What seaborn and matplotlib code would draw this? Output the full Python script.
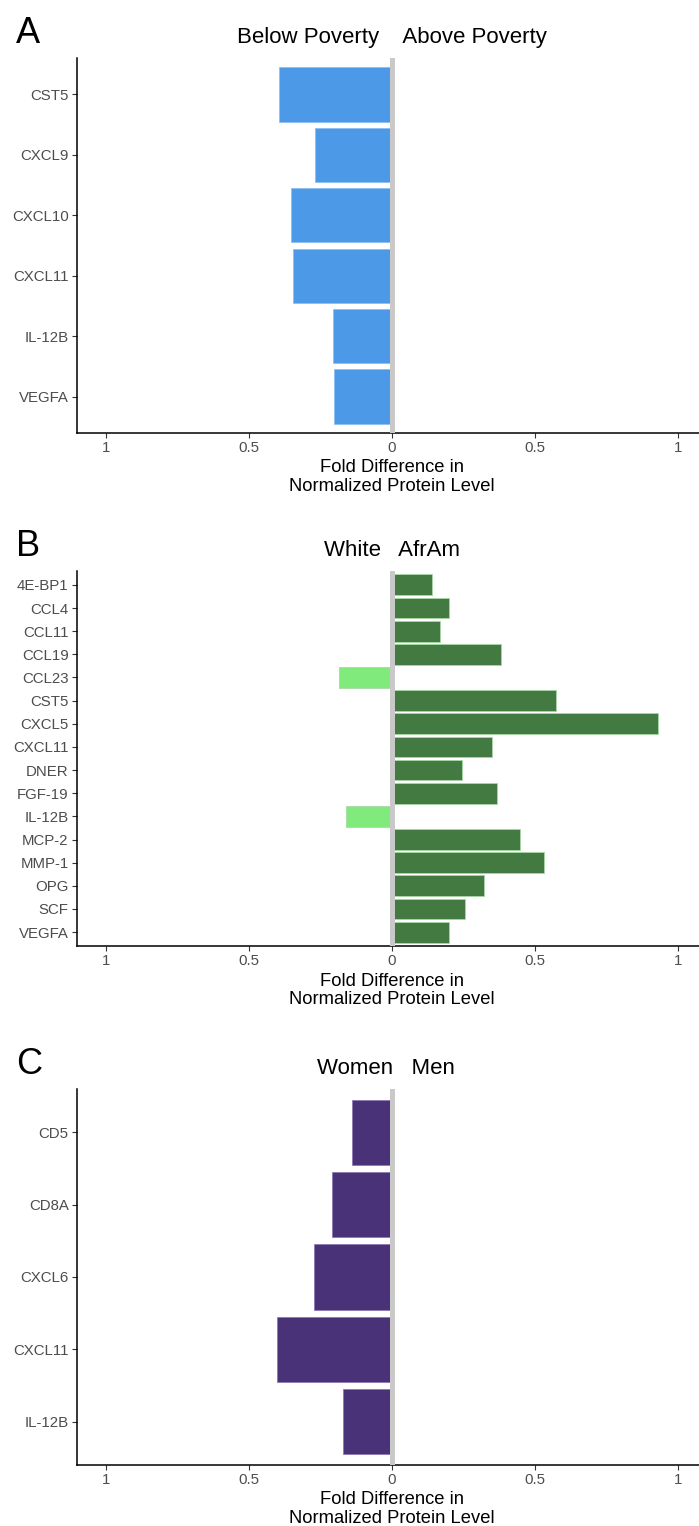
import matplotlib
matplotlib.use("Agg")
import matplotlib.pyplot as plt
import seaborn as sns
import pandas as pd

sns.set_theme(style="white")
plt.rcParams['font.family'] = ['Liberation Sans', 'DejaVu Sans']

# ---- data ----
a_proteins = ["CST5", "CXCL9", "CXCL10", "CXCL11", "IL-12B", "VEGFA"]
a_values = [-0.393, -0.268, -0.352, -0.344, -0.206, -0.203]

b_proteins = ["4E-BP1", "CCL4", "CCL11", "CCL19", "CCL23", "CST5", "CXCL5", "CXCL11",
              "DNER", "FGF-19", "IL-12B", "MCP-2", "MMP-1", "OPG", "SCF", "VEGFA"]
b_values = [0.139, 0.198, 0.168, 0.381, -0.184, 0.574, 0.929, 0.350,
            0.246, 0.366, -0.159, 0.447, 0.532, 0.321, 0.255, 0.199]

c_proteins = ["CD5", "CD8A", "CXCL6", "CXCL11", "IL-12B"]
c_values = [-0.139, -0.209, -0.273, -0.401, -0.170]

x_ticks = [-1, -0.5, 0, 0.5, 1]
x_ticklabels = ["1", "0.5", "0", "0.5", "1"]

panel_letters = ["A", "B", "C"]
panel_titles = ["Below Poverty    Above Poverty", "White   AfrAm", "Women   Men"]
x_label = "Fold Difference in\nNormalized Protein Level"

W, H = 699, 1526
fig = plt.figure(figsize=(W / 100, H / 100), dpi=100)

# axes rectangles in pixels: (top, bottom)
tops = [58, 571, 1089]
bottoms = [433, 946, 1465]
title_cx = [392, 392, 386]
left_px, right_px = 77, 707

panels = [
    (a_proteins, a_values, {"neg": "#4C99E7", "pos": "#4C99E7"}, "#8CC0F2"),
    (b_proteins, b_values, {"neg": "#80EA7C", "pos": "#437A41"}, "#A8D8A6"),
    (c_proteins, c_values, {"neg": "#4A3278", "pos": "#4A3278"}, "#8C7AB0"),
]

for i, (prots, vals, pal, edge) in enumerate(panels):
    top, bot = tops[i], bottoms[i]
    ax = fig.add_axes([left_px / W, 1 - bot / H, (right_px - left_px) / W, (bot - top) / H])
    df = pd.DataFrame({"protein": prots, "value": vals})
    df["dir"] = ["neg" if v < 0 else "pos" for v in vals]
    sns.barplot(data=df, x="value", y="protein", hue="dir", palette=pal,
                order=prots, orient="h", width=0.9, dodge=False, legend=False,
                edgecolor=edge, linewidth=0.6, saturation=1, ax=ax)
    ax.axvline(0, color="#C9C9C9", lw=3.6, zorder=5)
    n = len(prots)
    ax.set_ylim(n - 1 + 0.6, -0.6)
    ax.set_xlim(-1.1, 1.1)
    ax.set_xticks(x_ticks)
    ax.set_xticklabels(x_ticklabels)
    ax.set_ylabel("")
    ax.set_xlabel(x_label, fontsize=13.2, color="black", labelpad=3, linespacing=1.15)
    for s in ["top", "right"]:
        ax.spines[s].set_visible(False)
    for s in ["left", "bottom"]:
        ax.spines[s].set_color("black")
        ax.spines[s].set_linewidth(1.1)
    ax.tick_params(axis="both", which="both", length=3.5, width=0.8, color="#333333",
                   labelsize=10.8, labelcolor="#4D4D4D", pad=2.5,
                   bottom=True, left=True)
    ax.text((title_cx[i] - left_px) / (right_px - left_px),
            1 + 15 / (bot - top), panel_titles[i], transform=ax.transAxes,
            ha="center", va="baseline", fontsize=16, color="black")
    fig.text(16 / W, 1 - (top - 15) / H, panel_letters[i], ha="left", va="baseline",
             fontsize=26, color="black")

fig.savefig("out.png", dpi=100)
